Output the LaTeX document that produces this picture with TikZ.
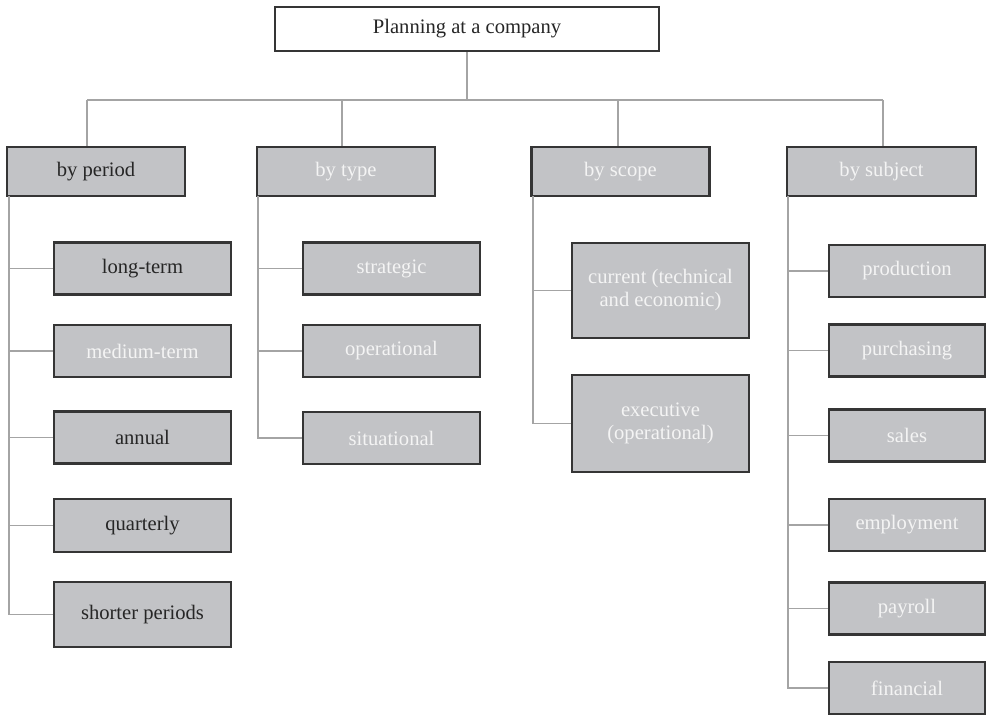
\documentclass[tikz,border=0pt]{standalone}
\usepackage{fontspec}
\setmainfont{Liberation Serif}
\definecolor{boxgray}{HTML}{C2C3C6}
\definecolor{boxline}{HTML}{353535}
\definecolor{wiregray}{HTML}{A4A4A4}
\definecolor{darktext}{HTML}{262626}
\definecolor{lighttext}{HTML}{F4F4F4}
\begin{document}
\begin{tikzpicture}[x=0.5pt, y=-0.5pt,
        head/.style={draw=boxline, line width=1.4pt, fill=white, minimum width=192pt, minimum height=22pt,
            font=\fontsize{10.3}{11.5}\selectfont, text=darktext},
        cat/.style={draw=boxline, line width=1.4pt, fill=boxgray, minimum width=89pt, minimum height=24.5pt,
            inner sep=0pt, align=center, font=\fontsize{10.3}{11.5}\selectfont},
        item/.style={cat, minimum width=88.5pt, minimum height=26pt},
        dk/.style={text=darktext},
        lt/.style={text=lighttext},
        link/.style={draw=wiregray, line width=0.8pt}]
            \useasboundingbox (0,0) rectangle (987,716);

            \node[head] (AA) at (467,29) {Planning at a company};

            \node[cat, dk] (BA) at (96,171.5) {by period};
            \node[cat, lt] (BB) at (346,171.5) {by type};
            \node[cat, lt] (BC) at (620.5,171.5) {by scope};
            \node[cat, lt, minimum width=94.5pt] (BD) at (881.5,171.5) {by subject};

            \coordinate (bus) at (467,100);
            \coordinate (dA) at (87,100);
            \coordinate (dB) at (342,100);
            \coordinate (dC) at (618,100);
            \coordinate (dD) at (883,100);

            \draw[link] (AA.south) -- (bus);
            \draw[link] (dA) -- (dD);
            \draw[link] (dA) -- (dA |- BA.north);
            \draw[link] (dB) -- (dB |- BB.north);
            \draw[link] (dC) -- (dC |- BC.north);
            \draw[link] (dD) -- (dD |- BD.north);

            \node[item, dk] (CA) at (142.5,268.5) {long-term};
            \node[item, lt] (CB) at (142.5,351) {medium-term};
            \node[item, dk] (CC) at (142.5,437.5) {annual};
            \node[item, dk, minimum height=26.5pt] (CD) at (142.5,525.5) {quarterly};
            \node[item, dk, minimum height=32.5pt] (CE) at (142.5,614.5) {shorter periods};

            \coordinate (tA) at (9,196);
            \draw[link] (tA) |- (CE.west);
            \draw[link] (CA.west) -- (CA.west -| tA);
            \draw[link] (CB.west) -- (CB.west -| tA);
            \draw[link] (CC.west) -- (CC.west -| tA);
            \draw[link] (CD.west) -- (CD.west -| tA);

            \node[item, lt] (DA) at (391.5,268.5) {strategic};
            \node[item, lt] (DB) at (391.5,351) {operational};
            \node[item, lt] (DC) at (391.5,438) {situational};

            \coordinate (tB) at (258,196);
            \draw[link] (tB) |- (DC.west);
            \draw[link] (DA.west) -- (DA.west -| tB);
            \draw[link] (DB.west) -- (DB.west -| tB);

            \node[item, lt, minimum height=47.5pt] (EA) at (660.5,290.5) {current (technical\\and economic)};
            \node[item, lt, minimum height=48.5pt] (EB) at (660.5,423.5) {executive\\(operational)};

            \coordinate (tC) at (533,196);
            \draw[link] (tC) |- (EB.west);
            \draw[link] (EA.west) -- (EA.west -| tC);

            \node[item, lt, minimum width=78pt] (FA) at (907,271) {production};
            \node[item, lt, minimum width=78pt] (FB) at (907,350.5) {purchasing};
            \node[item, lt, minimum width=78pt] (FC) at (907,435.5) {sales};
            \node[item, lt, minimum width=78pt] (FD) at (907,525) {employment};
            \node[item, lt, minimum width=78pt] (FE) at (907,608.5) {payroll};
            \node[item, lt, minimum width=78pt] (FF) at (907,688) {financial};

            \coordinate (tD) at (788,196);
            \draw[link] (tD) |- (FF.west);
            \draw[link] (FA.west) -- (FA.west -| tD);
            \draw[link] (FB.west) -- (FB.west -| tD);
            \draw[link] (FC.west) -- (FC.west -| tD);
            \draw[link] (FD.west) -- (FD.west -| tD);
            \draw[link] (FE.west) -- (FE.west -| tD);
        \end{tikzpicture}
\end{document}
